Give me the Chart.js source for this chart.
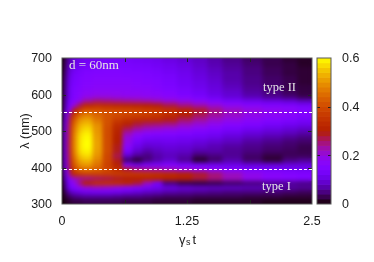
<!DOCTYPE html>
<html>
<head>
<meta charset="utf-8">
<style>
    html, body { margin: 0; padding: 0; background: #fff; }
    #wrap { position: relative; width: 374px; height: 262px; overflow: hidden; }
    canvas { position: absolute; left: 0; top: 0; }
</style>
<script src="https://cdn.jsdelivr.net/npm/chart.js@4"></script>
</head>
<body>
<div id="wrap">
    <canvas id="map-chart" width="374" height="262"></canvas>
    <canvas id="bar-chart" width="374" height="262"></canvas>
</div>
<script>
// column edges in t, rows in wavelength (nm)
const timeEdges = [0, .02, .04, .07, .1, .15, .2, .3, .4, .5, .6, .7, .8, .9, 1, 1.15, 1.3, 1.45, 1.6, 1.8, 2, 2.2, 2.35, 2.5];
const wavelengths = [693.75, 681.25, 668.75, 656.25, 643.75, 631.25, 618.75, 606.25, 593.75, 581.25, 568.75, 556.25, 543.75, 531.25, 518.75, 506.25,
    493.75, 481.25, 468.75, 456.25, 443.75, 431.25, 418.75, 406.25, 393.75, 381.25, 368.75, 356.25, 343.75, 331.25, 318.75, 306.25];
const intensity = [
    [.01, .03, .06, .08, .10, .11, .12, .125, .13, .13, .13, .125, .12, .115, .105, .095, .085, .07, .055, .04, .03, .02, .015],
    [.01, .035, .07, .09, .11, .12, .13, .135, .14, .14, .14, .135, .13, .125, .115, .105, .09, .075, .06, .045, .03, .025, .015],
    [.01, .04, .08, .10, .12, .13, .14, .145, .15, .15, .145, .14, .14, .13, .12, .11, .095, .08, .065, .05, .035, .025, .02],
    [.012, .045, .085, .11, .13, .14, .15, .155, .155, .155, .15, .15, .145, .14, .13, .115, .10, .085, .07, .05, .035, .025, .02],
    [.015, .05, .09, .12, .135, .145, .155, .16, .16, .16, .16, .155, .15, .145, .135, .12, .105, .09, .07, .055, .04, .03, .02],
    [.015, .055, .095, .125, .14, .15, .16, .165, .165, .165, .165, .16, .155, .15, .14, .125, .11, .095, .075, .055, .04, .03, .02],
    [.015, .055, .10, .13, .145, .155, .165, .17, .17, .17, .17, .165, .165, .155, .145, .13, .115, .10, .08, .06, .045, .03, .025],
    [.015, .06, .10, .13, .15, .16, .175, .18, .18, .18, .175, .175, .17, .165, .155, .14, .125, .105, .09, .065, .05, .035, .025],
    [.015, .06, .10, .13, .15, .165, .185, .195, .195, .19, .185, .185, .18, .175, .165, .15, .135, .115, .095, .075, .055, .045, .03],
    [.02, .065, .11, .14, .165, .19, .235, .255, .25, .245, .24, .235, .23, .22, .205, .19, .17, .15, .13, .115, .105, .095, .08],
    [.02, .07, .12, .16, .21, .27, .33, .345, .335, .325, .32, .315, .305, .295, .275, .25, .23, .205, .18, .165, .155, .15, .135],
    [.02, .08, .14, .2, .30, .37, .41, .41, .40, .395, .39, .385, .375, .365, .345, .315, .285, .25, .22, .2, .185, .175, .16],
    [.025, .09, .17, .28, .37, .44, .47, .44, .415, .40, .39, .385, .375, .365, .335, .30, .27, .24, .215, .19, .175, .165, .155],
    [.025, .10, .2, .32, .42, .49, .51, .46, .41, .375, .35, .335, .33, .32, .295, .265, .24, .215, .195, .175, .16, .15, .135],
    [.03, .11, .22, .34, .45, .52, .54, .49, .41, .34, .31, .28, .265, .26, .25, .225, .205, .185, .165, .15, .135, .125, .115],
    [.03, .115, .23, .35, .47, .54, .565, .50, .40, .32, .27, .24, .22, .21, .20, .185, .17, .155, .14, .125, .11, .10, .09],
    [.03, .12, .24, .36, .48, .56, .585, .505, .40, .31, .23, .19, .17, .165, .16, .15, .14, .13, .115, .10, .09, .08, .07],
    [.03, .12, .24, .36, .49, .57, .595, .51, .40, .30, .20, .16, .135, .13, .13, .125, .12, .11, .095, .08, .07, .06, .05],
    [.03, .12, .245, .37, .49, .575, .60, .515, .40, .30, .19, .13, .11, .11, .115, .11, .10, .09, .08, .065, .055, .045, .04],
    [.03, .125, .245, .37, .49, .575, .60, .515, .40, .29, .17, .11, .09, .095, .10, .095, .085, .075, .065, .055, .045, .04, .03],
    [.03, .12, .24, .365, .485, .57, .59, .51, .40, .29, .14, .09, .07, .08, .09, .085, .07, .07, .06, .05, .04, .035, .03],
    [.03, .12, .235, .355, .47, .55, .57, .50, .39, .27, .09, .06, .05, .07, .08, .07, .04, .05, .06, .04, .025, .035, .035],
    [.03, .115, .225, .34, .45, .52, .54, .48, .39, .29, .04, .02, .05, .07, .09, .06, .015, .04, .07, .04, .02, .05, .06],
    [.03, .105, .215, .325, .425, .49, .505, .46, .38, .31, .16, .12, .14, .14, .15, .14, .13, .12, .11, .10, .10, .10, .10],
    [.03, .10, .20, .30, .39, .44, .45, .43, .39, .34, .28, .25, .24, .235, .22, .20, .185, .17, .155, .14, .13, .125, .12],
    [.025, .09, .18, .28, .34, .365, .38, .38, .375, .37, .365, .36, .355, .345, .33, .31, .285, .255, .22, .19, .17, .16, .155],
    [.02, .08, .13, .19, .22, .235, .245, .26, .27, .285, .295, .305, .31, .31, .305, .295, .275, .25, .22, .185, .165, .16, .15],
    [.015, .06, .11, .15, .19, .25, .31, .34, .345, .34, .32, .28, .22, .13, .05, .03, .025, .03, .04, .05, .06, .06, .055],
    [.01, .05, .10, .13, .15, .175, .20, .21, .205, .19, .17, .15, .13, .115, .10, .09, .085, .08, .08, .075, .07, .065, .06],
    [.008, .03, .06, .08, .095, .105, .115, .12, .12, .115, .105, .095, .085, .08, .07, .065, .06, .055, .05, .05, .045, .04, .035],
    [.005, .02, .03, .04, .05, .055, .06, .06, .06, .055, .05, .05, .045, .04, .035, .035, .03, .03, .03, .025, .025, .02, .02],
    [.003, .01, .015, .02, .025, .025, .03, .03, .03, .03, .025, .025, .025, .02, .02, .02, .015, .015, .015, .015, .01, .01, .01]
];
const colorbarLevels = [.01, .03, .05, .07, .09, .11, .13, .15, .17, .19, .21, .23, .25, .27, .29, .31, .33, .35, .37, .39, .41, .43, .45, .47, .49, .51, .53, .55, .57, .59];
const xTicks = [0, 0.625, 1.25, 1.875, 2.5];
const xTickLabels = ['0', '', '1.25', '', '2.5'];
const yTicks = [300, 400, 500, 600, 700];
const colorbarTicks = [0, 0.2, 0.4, 0.6];
const markerLines = [551, 395]; // dashed white lines

const MAX_VALUE = 0.6;
const FRAME_COLOR = '#5a5a5a';
const TEXT_COLOR = '#1a1a1a';
const SANS = '"Liberation Sans", Arial, sans-serif';
const SERIF = '"Liberation Serif", "Times New Roman", serif';

// gnuplot default pm3d palette (rgbformulae 7,5,15)
function paletteColor(value) {
    const g = Math.min(Math.max(value / MAX_VALUE, 0), 1);
    const r = Math.sqrt(g) * 255;
    const gr = g * g * g * 255;
    const b = Math.max(Math.sin(2 * Math.PI * g), 0) * 255;
    return `rgb(${Math.round(r)}, ${Math.round(gr)}, ${Math.round(b)})`;
}

// one bar dataset per time column, each bar is one cell of the map
const columnDatasets = timeEdges.slice(0, -1).map((start, col) => ({
    stack: 'map',
    data: wavelengths.map(lambda => ({ y: lambda, x: [start, timeEdges[col + 1]] })),
    backgroundColor: intensity.map(row => paletteColor(row[col])),
    barPercentage: 1,
    categoryPercentage: 1,
    borderWidth: 0
}));

function drawFrame(chart, xValues, yValues, len) {
    const { ctx, chartArea: area, scales } = chart;
    ctx.save();
    ctx.strokeStyle = '#222';
    ctx.lineWidth = 1;
    ctx.beginPath();
    (xValues || []).forEach(v => {
        const px = Math.round(scales.x.getPixelForValue(v)) + 0.5;
        ctx.moveTo(px, area.bottom);
        ctx.lineTo(px, area.bottom - len);
        ctx.moveTo(px, area.top);
        ctx.lineTo(px, area.top + len);
    });
    (yValues || []).forEach(v => {
        const py = Math.round(scales.y.getPixelForValue(v)) + 0.5;
        ctx.moveTo(area.left, py);
        ctx.lineTo(area.left + len, py);
        ctx.moveTo(area.right, py);
        ctx.lineTo(area.right - len, py);
    });
    ctx.stroke();
    ctx.strokeStyle = FRAME_COLOR;
    ctx.strokeRect(area.left, area.top, area.right - area.left, area.bottom - area.top);
    ctx.restore();
}

const mapPlugin = {
    id: 'mapExtras',
    afterDatasetsDraw(chart) {
        const { ctx, chartArea: area, scales } = chart;

        // pm3d look: soften the cells, only inside the plot area
        ctx.save();
        ctx.beginPath();
        ctx.rect(area.left, area.top, area.right - area.left, area.bottom - area.top);
        ctx.clip();
        ctx.filter = 'blur(2px)';
        ctx.drawImage(chart.canvas, 0, 0);
        ctx.restore();

        drawFrame(chart, xTicks.slice(1, -1), yTicks.slice(1, -1), 4);

        ctx.save();
        ctx.strokeStyle = '#fff';
        ctx.lineWidth = 1;
        ctx.setLineDash([3, 2]);
        markerLines.forEach(level => {
            const py = Math.round(scales.y.getPixelForValue(level)) + 0.5;
            ctx.beginPath();
            ctx.moveTo(area.left - 3, py);
            ctx.lineTo(area.right, py);
            ctx.stroke();
        });
        ctx.restore();

        ctx.save();
        ctx.fillStyle = '#e6e6e6';
        ctx.textBaseline = 'middle';
        ctx.textAlign = 'left';
        ctx.font = `13px ${SERIF}`;
        ctx.fillText('d = 60nm', 69, 66);
        ctx.font = `12.5px ${SERIF}`;
        ctx.fillText('type II', 263, 88);
        ctx.fillText('type I', 262, 187);

        // x title, needs the subscript
        ctx.fillStyle = TEXT_COLOR;
        ctx.font = `13px ${SANS}`;
        ctx.fillText('\u03b3', 179, 240);
        ctx.font = `9px ${SANS}`;
        ctx.fillText('s', 186, 243);
        ctx.font = `13px ${SANS}`;
        ctx.fillText('t', 192.5, 240);
        ctx.restore();
    }
};

new Chart(document.getElementById('map-chart'), {
    type: 'bar',
    data: { datasets: columnDatasets },
    plugins: [mapPlugin],
    options: {
        indexAxis: 'y',
        responsive: false,
        animation: false,
        layout: { padding: { left: 12, right: 62, top: 58, bottom: 28 } },
        plugins: { legend: { display: false }, tooltip: { enabled: false } },
        scales: {
            x: {
                type: 'linear',
                stacked: false,
                min: 0,
                max: 2.5,
                grid: { display: false },
                border: { display: false },
                afterBuildTicks: scale => { scale.ticks = xTicks.map(value => ({ value })); },
                afterFit: scale => { scale.height = 30; },
                ticks: {
                    autoSkip: false,
                    maxRotation: 0,
                    padding: 2,
                    color: TEXT_COLOR,
                    font: { family: SANS, size: 12.5 },
                    callback: value => xTickLabels[xTicks.indexOf(value)]
                }
            },
            y: {
                type: 'linear',
                offset: false,
                min: 300,
                max: 700,
                grid: { display: false },
                border: { display: false },
                afterBuildTicks: scale => { scale.ticks = yTicks.map(value => ({ value })); },
                afterFit: scale => { scale.width = 50; },
                title: {
                    display: true,
                    text: '\u03bb (nm)',
                    color: TEXT_COLOR,
                    font: { family: SANS, size: 12.5 },
                    padding: { top: 6, bottom: 0 }
                },
                ticks: {
                    padding: 2,
                    labelOffset: 1,
                    color: TEXT_COLOR,
                    font: { family: SANS, size: 12.5 }
                }
            }
        }
    }
});

new Chart(document.getElementById('bar-chart'), {
    type: 'bar',
    data: {
        datasets: [{
            stack: 'bar',
            data: colorbarLevels.map(level => ({ y: level, x: [0, 1] })),
            backgroundColor: colorbarLevels.map(paletteColor),
            barPercentage: 1,
            categoryPercentage: 1,
            borderWidth: 0
        }]
    },
    plugins: [{
        id: 'barFrame',
        afterDatasetsDraw(chart) {
            drawFrame(chart, null, colorbarTicks.slice(1, -1), 3);
        }
    }],
    options: {
        indexAxis: 'y',
        responsive: false,
        animation: false,
        layout: { padding: { left: 317, right: 8, top: 58, bottom: 58 } },
        plugins: { legend: { display: false }, tooltip: { enabled: false } },
        scales: {
            x: {
                type: 'linear',
                stacked: false,
                min: 0,
                max: 1,
                display: false
            },
            y: {
                type: 'linear',
                offset: false,
                position: 'right',
                min: 0,
                max: 0.6,
                grid: { display: false },
                border: { display: false },
                afterBuildTicks: scale => { scale.ticks = colorbarTicks.map(value => ({ value })); },
                afterFit: scale => { scale.width = 35; },
                ticks: {
                    padding: 3,
                    labelOffset: 1,
                    color: TEXT_COLOR,
                    font: { family: SANS, size: 12.5 },
                    callback: value => String(value)
                }
            }
        }
    }
});
</script>
</body>
</html>
